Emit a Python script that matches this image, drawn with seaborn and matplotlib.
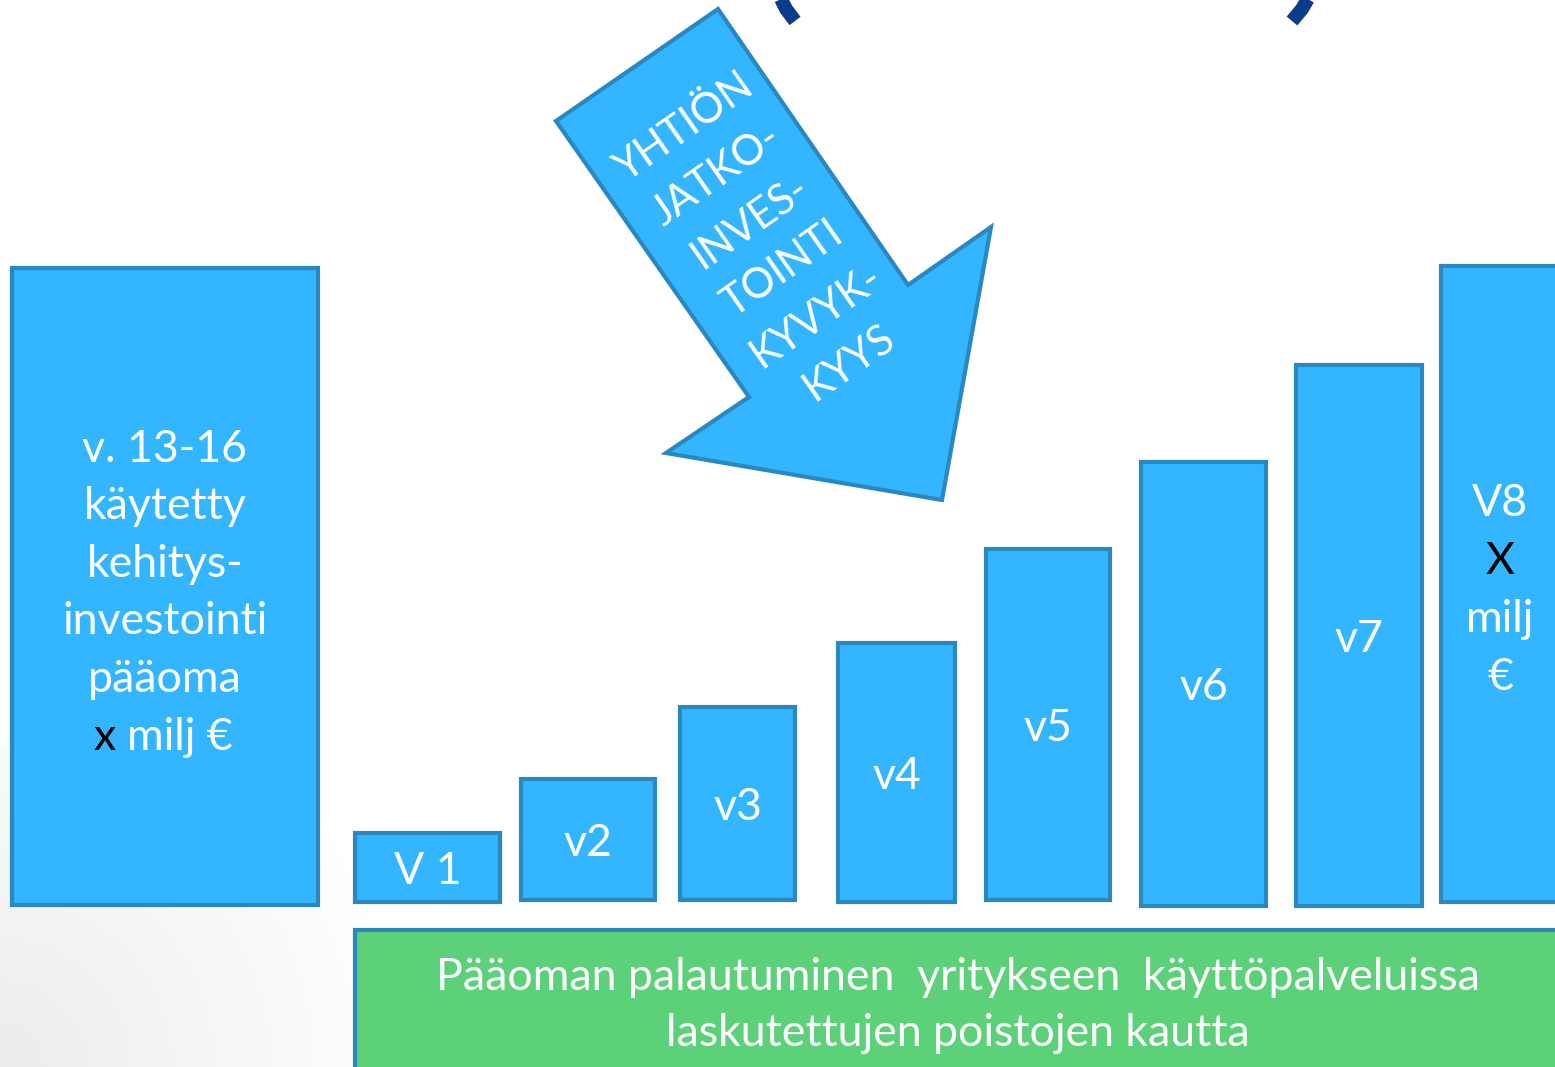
import matplotlib
matplotlib.use('Agg')

import numpy as np
import pandas as pd
import matplotlib.pyplot as plt
import seaborn as sns
from matplotlib.patches import Polygon

# yearly return bars (pixel-ish units, y measured up from the bottom edge)
bar_labels = ["V 1", "v2", "v3", "v4", "v5", "v6", "v7"]
bar_left = [355, 521, 680, 838, 986, 1141, 1296]
bar_right = [500, 655, 795, 955, 1110, 1266, 1422]
bar_bottom = [165, 167, 167, 165, 167, 161, 161]
bar_top = [234, 288, 360, 424, 518, 605, 702]

# last year bar, cut off at the right edge
last_label = ["V8", "X", "milj", "€"]
last_left, last_right = 1441, 1570
last_bottom, last_top = 165, 801

# invested capital bar
capital_lines = ["v. 13-16", "käytetty", "kehitys-", "investointi", "pääoma"]
capital_last = ("x", "milj €")
capital_left, capital_right = 12, 318
capital_bottom, capital_top = 162, 799

arrow_lines = ["YHTIÖN", "JATKO-", "INVES-", "TOINTI", "KYVYK-", "KYYS"]
green_lines = ["Pääoman palautuminen  yritykseen  käyttöpalveluissa",
               "laskutettujen poistojen kautta"]

fill = "#33B5FF"
edge = "#2A88C0"
green = "#5DD07A"
navy = "#0B3C8C"

sns.set_theme(style="white")
plt.rcParams['font.family'] = ['Lato', 'DejaVu Sans']

W, H = 1555, 1067
fig = plt.figure(figsize=(W / 100, H / 100), dpi=100)
ax = fig.add_axes([0, 0, 1, 1])

# soft grey shade in the bottom-left corner
yy, xx = np.mgrid[0:320, 0:420]
r = np.hypot(xx, yy)
g = 1 - 0.075 * np.clip(1 - r / 400, 0, 1)
ax.imshow(np.dstack([g, g, g]), extent=(0, 420, 0, 320), origin='lower', zorder=0, aspect='auto')

fs = 44.6 * 0.72   # ~45 px

df = pd.DataFrame({"label": bar_labels, "left": bar_left, "right": bar_right,
                   "bottom": bar_bottom, "top": bar_top})
df["width"] = df.right - df.left
df["center"] = df.left + df.width / 2
df["height"] = df.top - df.bottom

ax.bar(df.center, df.height, width=df.width, bottom=df.bottom, color=fill,
       edgecolor=edge, linewidth=3, zorder=2)
for _, row in df.iterrows():
    ax.text(row.center, row.bottom + row.height / 2, row.label, color="white",
            fontsize=fs, ha="center", va="center_baseline", zorder=3)

# V8 bar
ax.bar((last_left + last_right) / 2, last_top - last_bottom, width=last_right - last_left,
       bottom=last_bottom, color=fill, edgecolor=edge, linewidth=3, zorder=2)
for i, t in enumerate(last_label):
    ax.text(1500, 1067 - 500 - i * 57.7, t, color="black" if t == "X" else "white",
            fontsize=fs, ha="center", va="center_baseline", zorder=3)

# capital bar
cx = (capital_left + capital_right) / 2
ax.bar(cx, capital_top - capital_bottom, width=capital_right - capital_left,
       bottom=capital_bottom, color=fill, edgecolor=edge, linewidth=3, zorder=2)
for i, t in enumerate(capital_lines):
    ax.text(cx, 1067 - 445 - i * 57.6, t, color="white", fontsize=fs,
            ha="center", va="center_baseline", zorder=3)
ax.text(105, 1067 - 733, capital_last[0], color="black", fontsize=fs,
        ha="center", va="center_baseline", zorder=3)
ax.text(127, 1067 - 733, capital_last[1], color="white", fontsize=fs,
        ha="left", va="center_baseline", zorder=3)

# green box
ax.bar((355 + 1575) / 2, 150, width=1575 - 355, bottom=1067 - 930 - 150,
       color=green, edgecolor=edge, linewidth=3, zorder=2)
for i, t in enumerate(green_lines):
    ax.text(958, 1067 - 973 - i * 57, t, color="white", fontsize=fs,
            ha="center", va="center_baseline", zorder=3)

# arrow
arrow = Polygon([(718, 1058), (556, 946), (749, 670), (666, 614), (942, 567),
                 (991, 840), (908, 782)], closed=True, facecolor=fill,
                edgecolor=edge, linewidth=3, zorder=2)
ax.add_patch(arrow)
start = np.array([682, 942])
step = np.array([0.573, -0.819]) * 57.5
for i, t in enumerate(arrow_lines):
    p = start + i * step
    ax.text(p[0], p[1], t, color="white", fontsize=41.5 * 0.72, rotation=35,
            rotation_mode="anchor", ha="center", va="center_baseline", zorder=3)

# bottoms of the big parentheses at the top
ax.plot([780, 786, 795], [1070, 1058, 1046], color=navy, linewidth=10,
        solid_capstyle="butt", zorder=2)
ax.plot([1309, 1302, 1292], [1070, 1058, 1046], color=navy, linewidth=10,
        solid_capstyle="butt", zorder=2)

ax.set_xlim(0, W)
ax.set_ylim(0, H)
ax.axis("off")

fig.savefig("out.png", dpi=100, facecolor="white")
